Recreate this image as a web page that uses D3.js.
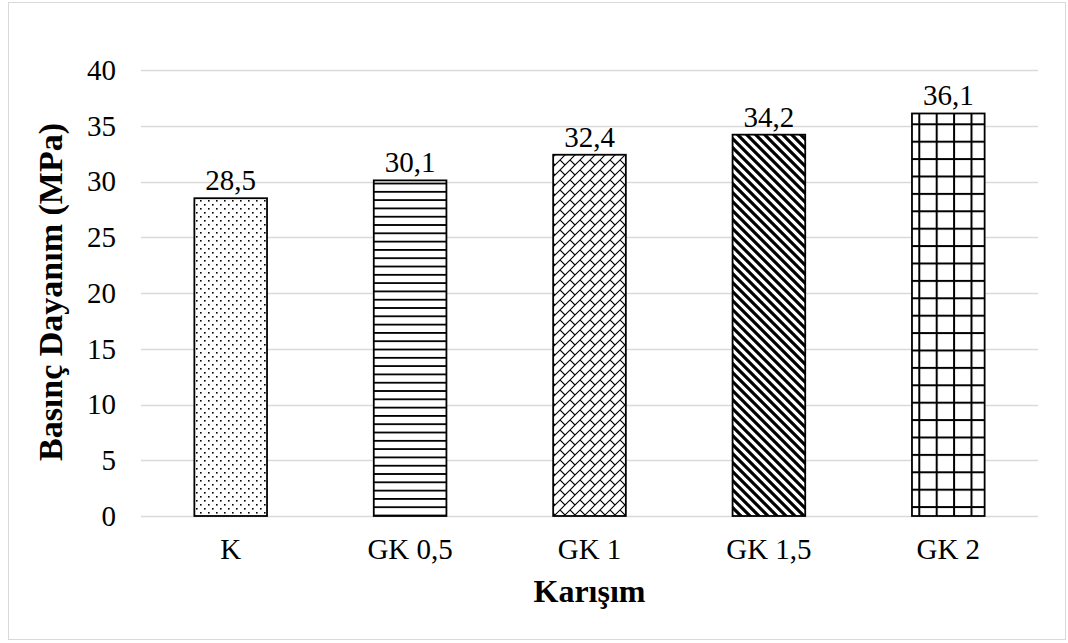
<!DOCTYPE html>
<html><head><meta charset="utf-8">
<script src="https://cdn.jsdelivr.net/npm/d3@7"></script>
<style>body{margin:0;background:#fff}svg{display:block}</style>
</head><body>
<script>
const categories = ["K", "GK 0,5", "GK 1", "GK 1,5", "GK 2"];
const values = [28.5, 30.1, 32.4, 34.2, 36.1];
const valueLabels = ["28,5", "30,1", "32,4", "34,2", "36,1"];
const yTicks = [0, 5, 10, 15, 20, 25, 30, 35, 40];
const patterns = ["dots", "hlines", "brick", "ddiag", "grid"];

const W = 1068, H = 643;
const m = {left: 141, right: 1038, top: 70, bottom: 516};
const font = "'Liberation Serif','Times New Roman',serif";

const svg = d3.select("body").append("svg").attr("width", W).attr("height", H);
svg.append("rect").attr("x", 8.5).attr("y", 2.5).attr("width", 1057).attr("height", 637)
  .attr("fill", "#fff").attr("stroke", "#d9d9d9").attr("stroke-width", 1);

const x = d3.scaleBand().domain(categories).range([m.left, m.right]).paddingInner(0.595).paddingOuter(0.2975);
const y = d3.scaleLinear().domain([0, 40]).range([m.bottom, m.top]);

const defs = svg.append("defs");
// dots
let p = defs.append("pattern").attr("id", "dots").attr("patternUnits", "userSpaceOnUse").attr("width", 8).attr("height", 8);
p.append("rect").attr("width", 8).attr("height", 8).attr("fill", "#fff");
p.append("rect").attr("x", 0).attr("y", 0).attr("width", 1.6).attr("height", 1.6).attr("fill", "#000");
p.append("rect").attr("x", 4).attr("y", 4).attr("width", 1.6).attr("height", 1.6).attr("fill", "#000");
// horizontal lines
p = defs.append("pattern").attr("id", "hlines").attr("patternUnits", "userSpaceOnUse").attr("width", 8).attr("height", 8.3);
p.append("rect").attr("width", 8).attr("height", 8.3).attr("fill", "#fff");
p.append("rect").attr("x", 0).attr("y", 0).attr("width", 8).attr("height", 1.8).attr("fill", "#000");
// diagonal brick
p = defs.append("pattern").attr("id", "brick").attr("patternUnits", "userSpaceOnUse").attr("width", 10).attr("height", 10);
p.append("rect").attr("width", 10).attr("height", 10).attr("fill", "#fff");
p.append("path").attr("d", "M-1,11 L11,-1 M-1,1 L1,-1 M9,11 L11,9 M0,0 L5,5")
  .attr("stroke", "#000").attr("stroke-width", 1.1).attr("fill", "none");
// wide downward diagonal
p = defs.append("pattern").attr("id", "ddiag").attr("patternUnits", "userSpaceOnUse").attr("width", 9).attr("height", 9);
p.append("rect").attr("width", 9).attr("height", 9).attr("fill", "#fff");
p.append("path").attr("d", "M-2,-2 L11,11 M-2,7 L2,11 M7,-2 L11,2")
  .attr("stroke", "#000").attr("stroke-width", 3.2).attr("fill", "none");
// grid
p = defs.append("pattern").attr("id", "grid").attr("patternUnits", "userSpaceOnUse").attr("width", 17.4).attr("height", 17.4)
  .attr("x", 918.3).attr("y", 140.7);
p.append("rect").attr("width", 17.4).attr("height", 17.4).attr("fill", "#fff");
p.append("rect").attr("x", 0).attr("y", 0).attr("width", 2).attr("height", 17.4).attr("fill", "#000");
p.append("rect").attr("x", 0).attr("y", 0).attr("width", 17.4).attr("height", 2).attr("fill", "#000");

// gridlines
svg.append("g").selectAll("line").data(yTicks).join("line")
  .attr("x1", m.left).attr("x2", m.right)
  .attr("y1", d => Math.round(y(d)) + 0.5).attr("y2", d => Math.round(y(d)) + 0.5)
  .attr("stroke", "#d9d9d9").attr("stroke-width", 1.3);

// y axis
const yAxis = d3.axisLeft(y).tickValues(yTicks).tickSize(0).tickPadding(25).tickFormat(d => d);
const gy = svg.append("g").attr("transform", `translate(${m.left},0)`).call(yAxis);
gy.select(".domain").remove();
gy.selectAll("text").attr("font-family", font).attr("font-size", 29).attr("fill", "#000");

// x axis
const xAxis = d3.axisBottom(x).tickSize(0).tickPadding(22);
const gx = svg.append("g").attr("transform", `translate(0,${m.bottom})`).call(xAxis);
gx.select(".domain").remove();
gx.selectAll("text").attr("font-family", font).attr("font-size", 29).attr("fill", "#000");

// bars
svg.append("g").selectAll("rect").data(values).join("rect")
  .attr("x", (d, i) => x(categories[i]))
  .attr("y", d => y(d))
  .attr("width", x.bandwidth())
  .attr("height", d => y(0) - y(d))
  .attr("fill", (d, i) => `url(#${patterns[i]})`)
  .attr("stroke", "#000").attr("stroke-width", 1.8);

// value labels
svg.append("g").selectAll("text").data(values).join("text")
  .attr("x", (d, i) => x(categories[i]) + x.bandwidth() / 2)
  .attr("y", d => y(d) - 8)
  .attr("text-anchor", "middle")
  .attr("font-family", font).attr("font-size", 29).attr("fill", "#000")
  .text((d, i) => valueLabels[i]);

// axis titles
svg.append("text").attr("x", (m.left + m.right) / 2).attr("y", 602)
  .attr("text-anchor", "middle").attr("font-family", font).attr("font-weight", "bold")
  .attr("font-size", 32).text("Karışım");
svg.append("text").attr("transform", `translate(62,${(m.top + m.bottom) / 2 - 1}) rotate(-90)`)
  .attr("text-anchor", "middle").attr("font-family", font).attr("font-weight", "bold")
  .attr("font-size", 34).text("Basınç Dayanım (MPa)");
</script>
</body></html>
